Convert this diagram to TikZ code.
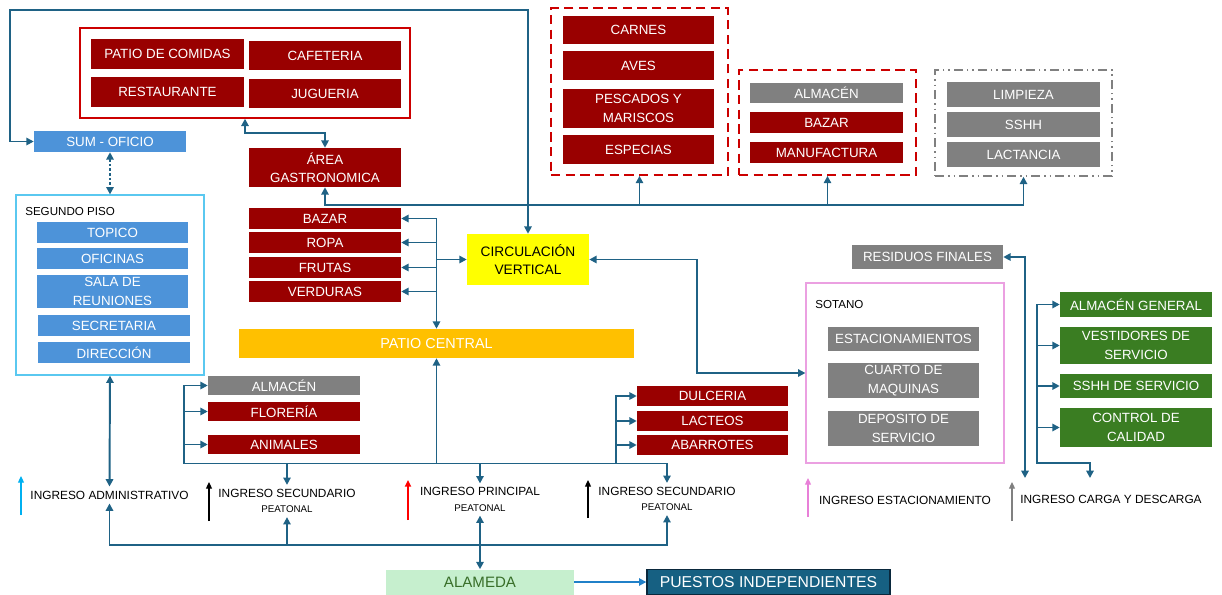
\documentclass[tikz,border=0pt]{standalone}
\usepackage{fontspec}
\setmainfont{Liberation Sans}
\usetikzlibrary{arrows.meta}
\definecolor{lnk}{RGB}{31,98,133}
\definecolor{dred}{RGB}{153,0,0}
\definecolor{mgray}{RGB}{128,128,128}
\definecolor{sblue}{RGB}{77,147,217}
\definecolor{dgreen}{RGB}{58,125,34}
\definecolor{fred}{RGB}{204,0,0}
\definecolor{lblue}{RGB}{90,200,240}
\definecolor{fpink}{RGB}{235,160,225}
\definecolor{ylw}{RGB}{255,255,0}
\definecolor{orng}{RGB}{255,192,0}
\definecolor{lgreen}{RGB}{198,239,206}
\definecolor{tgreen}{RGB}{56,110,40}
\definecolor{pteal}{RGB}{22,96,130}
\definecolor{pborder}{RGB}{10,40,60}
\definecolor{alink}{RGB}{32,128,200}
\definecolor{cyanar}{RGB}{0,176,240}
\definecolor{pinkar}{RGB}{232,128,216}
\newcommand{\peafont}{\fontsize{7.3}{8}\selectfont}
\tikzset{
  sz/.style 2 args={minimum width=#1*0.75pt, minimum height=#2*0.75pt},
  bx/.style={inner sep=0pt, align=center, text=white, font=\fontsize{10}{13.8}\selectfont},
  rbox/.style={bx, fill=dred},
  gbox/.style={bx, fill=mgray},
  bbox/.style={bx, fill=sblue},
  grbox/.style={bx, fill=dgreen},
  frame/.style={inner sep=0pt},
  conn/.style={draw=lnk, line width=1.45pt},
  lbl/.style={inner sep=3pt, align=center, text=black, font=\fontsize{8.9}{11.5}\selectfont},
  legar/.style={line width=0.9pt, -{Triangle[length=5pt,width=4.5pt]}}
}
\begin{document}
\begin{tikzpicture}[x=0.75pt,y=-0.75pt, >={Triangle[length=5.5pt,width=5.5pt]}]
\useasboundingbox (0,0) rectangle (1222,594);

% ---------- group 1 (food court) ----------
\node[frame, draw=fred, line width=1.1pt, sz={330}{90}] (g1) at (245,73) {};
\node[rbox, sz={153}{30}] (patio) at (167.5,54) {PATIO DE COMIDAS};
\node[rbox, sz={152}{29}] (cafe) at (325,55.5) {CAFETERIA};
\node[rbox, sz={153}{30}] (rest) at (167.5,92) {RESTAURANTE};
\node[rbox, sz={152}{29}] (jug) at (325,93.5) {JUGUERIA};

\node[rbox, sz={152}{39}] (area) at (325,167.5) {ÁREA\\GASTRONOMICA};

% ---------- meats group ----------
\node[frame, draw=fred, line width=1.3pt, dash pattern=on 7pt off 4pt, sz={177}{167}] (gc) at (639.5,91.5) {};
\node[rbox, sz={151}{28}] (carnes) at (638.5,30) {CARNES};
\node[rbox, sz={151}{29}] (aves) at (638.5,65.5) {AVES};
\node[rbox, sz={151}{39}] (pesc) at (638.5,108.5) {PESCADOS Y\\MARISCOS};
\node[rbox, sz={151}{29}] (espec) at (638.5,149.5) {ESPECIAS};

% ---------- group 2 ----------
\node[frame, draw=fred, line width=1.3pt, dash pattern=on 7pt off 4pt, sz={177}{105}] (g2) at (827.5,122.5) {};
\node[gbox, sz={153}{20}] (alm1) at (826.5,93) {ALMACÉN};
\node[rbox, sz={153}{21}] (bazar1) at (826.5,122.5) {BAZAR};
\node[rbox, sz={153}{21}] (manuf) at (826.5,152.5) {MANUFACTURA};

% ---------- group 3 ----------
\node[frame, draw=mgray, line width=1.1pt, dash pattern=on 7pt off 3pt on 1pt off 3pt on 1pt off 3pt, sz={177}{106}] (g3) at (1023.5,123) {};
\node[gbox, sz={153}{25}] (limp) at (1023.5,94.5) {LIMPIEZA};
\node[gbox, sz={153}{25}] (sshh) at (1023.5,124.5) {SSHH};
\node[gbox, sz={153}{25}] (lact1) at (1023.5,154.5) {LACTANCIA};

% ---------- SUM and second floor ----------
\node[bbox, sz={152}{21}] (sum) at (110,141.5) {SUM - OFICIO};
\node[frame, draw=lblue, line width=0.9pt, sz={188}{180}] (sp) at (110,285) {};
\node[anchor=west, inner sep=0pt, font=\fontsize{8.7}{10}\selectfont] (splbl) at (25,211) {SEGUNDO PISO};
\node[bbox, sz={151}{21}] (topico) at (112.5,232.5) {TOPICO};
\node[bbox, sz={151}{21}] (ofic) at (112.5,258.5) {OFICINAS};
\node[bbox, sz={151}{33}] (sala) at (112.5,291.5) {SALA DE\\REUNIONES};
\node[bbox, sz={152}{21}] (secr) at (114,325.5) {SECRETARIA};
\node[bbox, sz={152}{21}] (direc) at (114,352.5) {DIRECCIÓN};

% ---------- market stalls ----------
\node[rbox, sz={152}{21}] (bazar2) at (325,218.5) {BAZAR};
\node[rbox, sz={152}{21}] (ropa) at (325,242.5) {ROPA};
\node[rbox, sz={152}{21}] (frutas) at (325,267.5) {FRUTAS};
\node[rbox, sz={152}{21}] (verd) at (325,291.5) {VERDURAS};

\node[bx, fill=ylw, text=black, font=\fontsize{10.3}{14}\selectfont, sz={122}{51}] (circ) at (528,259.5) {CIRCULACIÓN\\VERTICAL};
\node[bx, fill=orng, font=\fontsize{10.8}{12}\selectfont, sz={395}{29}] (patioc) at (436.5,343.5) {PATIO CENTRAL};

\node[gbox, sz={152}{19}] (alm2) at (284,385.5) {ALMACÉN};
\node[rbox, sz={152}{19}] (flor) at (284,411.5) {FLORERÍA};
\node[rbox, sz={152}{19}] (anim) at (284,444.5) {ANIMALES};

\node[rbox, sz={151}{20}] (dulc) at (712.5,396) {DULCERIA};
\node[rbox, sz={151}{20}] (lact2) at (712.5,421) {LACTEOS};
\node[rbox, sz={151}{20}] (abar) at (712.5,445) {ABARROTES};

% ---------- basement and service ----------
\node[gbox, sz={151}{24}] (resid) at (927.5,257) {RESIDUOS FINALES};
\node[frame, draw=fpink, line width=0.9pt, sz={198}{180}] (sot) at (905,373) {};
\node[anchor=west, inner sep=0pt, font=\fontsize{8.7}{10}\selectfont] (sotlbl) at (815,304) {SOTANO};
\node[gbox, sz={151}{24}] (estac) at (903.5,339) {ESTACIONAMIENTOS};
\node[gbox, sz={151}{35}] (cuarto) at (903.5,380.5) {CUARTO DE\\MAQUINAS};
\node[gbox, sz={151}{35}] (depos) at (903.5,428.5) {DEPOSITO DE\\SERVICIO};

\node[grbox, sz={152}{25}] (almg) at (1136,304.5) {ALMACÉN GENERAL};
\node[grbox, sz={152}{37}] (vest) at (1136,345.5) {VESTIDORES DE\\SERVICIO};
\node[grbox, sz={152}{24}] (sshhs) at (1136,386) {SSHH DE SERVICIO};
\node[grbox, sz={152}{39}] (ctrl) at (1136,427.5) {CONTROL DE\\CALIDAD};

% ---------- entrances ----------
\node[lbl] (ingadm) at (109.5,495) {INGRESO ADMINISTRATIVO};
\node[lbl] (ingsec1) at (287,501) {INGRESO SECUNDARIO\\{\peafont PEATONAL}};
\node[lbl] (ingpri) at (480,499.5) {INGRESO PRINCIPAL\\{\peafont PEATONAL}};
\node[lbl] (ingsec2) at (667,499) {INGRESO SECUNDARIO\\{\peafont PEATONAL}};
\node[lbl] (ingest) at (905,500) {INGRESO ESTACIONAMIENTO};
\node[lbl] (ingcar) at (1111,499) {INGRESO CARGA Y DESCARGA};

\node[bx, fill=lgreen, text=tgreen, font=\fontsize{11.3}{13}\selectfont, sz={188}{25}] (ala) at (480,582) {ALAMEDA};
\node[bx, fill=pteal, draw=pborder, line width=1pt, font=\fontsize{11.8}{13}\selectfont, sz={243}{25}] (pue) at (768.5,582) {PUESTOS INDEPENDIENTES};

% ---------- legend arrows ----------
\coordinate (a1s) at (21,515);  \coordinate (a1e) at (21,476);
\coordinate (a2s) at (209,521); \coordinate (a2e) at (209,482);
\coordinate (a3s) at (408,520); \coordinate (a3e) at (408,480);
\coordinate (a4s) at (588,518); \coordinate (a4e) at (588,480);
\coordinate (a5s) at (808,517); \coordinate (a5e) at (808,478);
\coordinate (a6s) at (1012,521); \coordinate (a6e) at (1012,482);
\draw[legar, draw=cyanar, fill=cyanar] (a1s) -- (a1e);
\draw[legar, draw=black] (a2s) -- (a2e);
\draw[legar, draw=red, line width=1.8pt] (a3s) -- (a3e);
\draw[legar, draw=black] (a4s) -- (a4e);
\draw[legar, draw=pinkar] (a5s) -- (a5e);
\draw[legar, draw=mgray] (a6s) -- (a6e);

% ---------- connectors ----------
\draw[conn,<->] (circ.north) |- (10,10) -- (10,141.5) -- (sum.west);
\draw[conn,<->] (g1.south) -- (245,133) -| (area.north);
\draw[conn,<->] (area.south) |- (1023.5,205) -- (g3.south);
\draw[conn,->] (639.5,205) -- (gc.south);
\draw[conn,->] (827.5,205) -- (g2.south);
\draw[conn,<->, dash pattern=on 2pt off 1.5pt] (sum.south) -- (sp.north);
\draw[conn,<->] (sp.south) -- (ingadm.north);

\draw[conn,<->] (bazar2.east) -| (patioc.north);
\draw[conn,->] (patioc.north |- ropa.east) -- (ropa.east);
\draw[conn,->] (patioc.north |- frutas.east) -- (frutas.east);
\draw[conn,->] (patioc.north |- verd.east) -- (verd.east);
\draw[conn,->] (patioc.north |- circ.west) -- (circ.west);

\draw[conn,<->] (circ.east) -- (697,259.5) |- (sot.west);

\draw[conn,<->] (alm2.west) -| (184,463.5) -| (ingsec2.north);
\draw[conn,->] (184,411.5) -- (flor.west);
\draw[conn,->] (184,444.5) -- (anim.west);
\draw[conn,->] (287,463.5) -- (ingsec1.north);
\draw[conn,->] (480,463.5) -- (ingpri.north);
\draw[conn,<-] (patioc.south) -- (436.5,463.5);
\draw[conn,->] (616,463.5) |- (dulc.west);
\draw[conn,->] (616,421) -- (lact2.west);
\draw[conn,->] (616,445) -- (abar.west);

\draw[conn,<->] (ingadm.south) |- (667,545) -- (ingsec2.south);
\draw[conn,->] (287,545) -- (ingsec1.south);
\draw[conn,<->, line width=2pt] (ingpri.south) -- (ala.north);
\draw[draw=alink, line width=1.3pt, ->] (ala.east) -- (pue.west);

\coordinate (resend) at (1025,478);
\draw[conn,<->] (resid.east) -| (resend);
\coordinate (grnend) at (1090,478);
\draw[conn,<->] (almg.west) -| (1037,463) -| (grnend);
\draw[conn,->] (1037,345.5) -- (vest.west);
\draw[conn,->] (1037,386) -- (sshhs.west);
\draw[conn,->] (1037,427.5) -- (ctrl.west);
\end{tikzpicture}
\end{document}
